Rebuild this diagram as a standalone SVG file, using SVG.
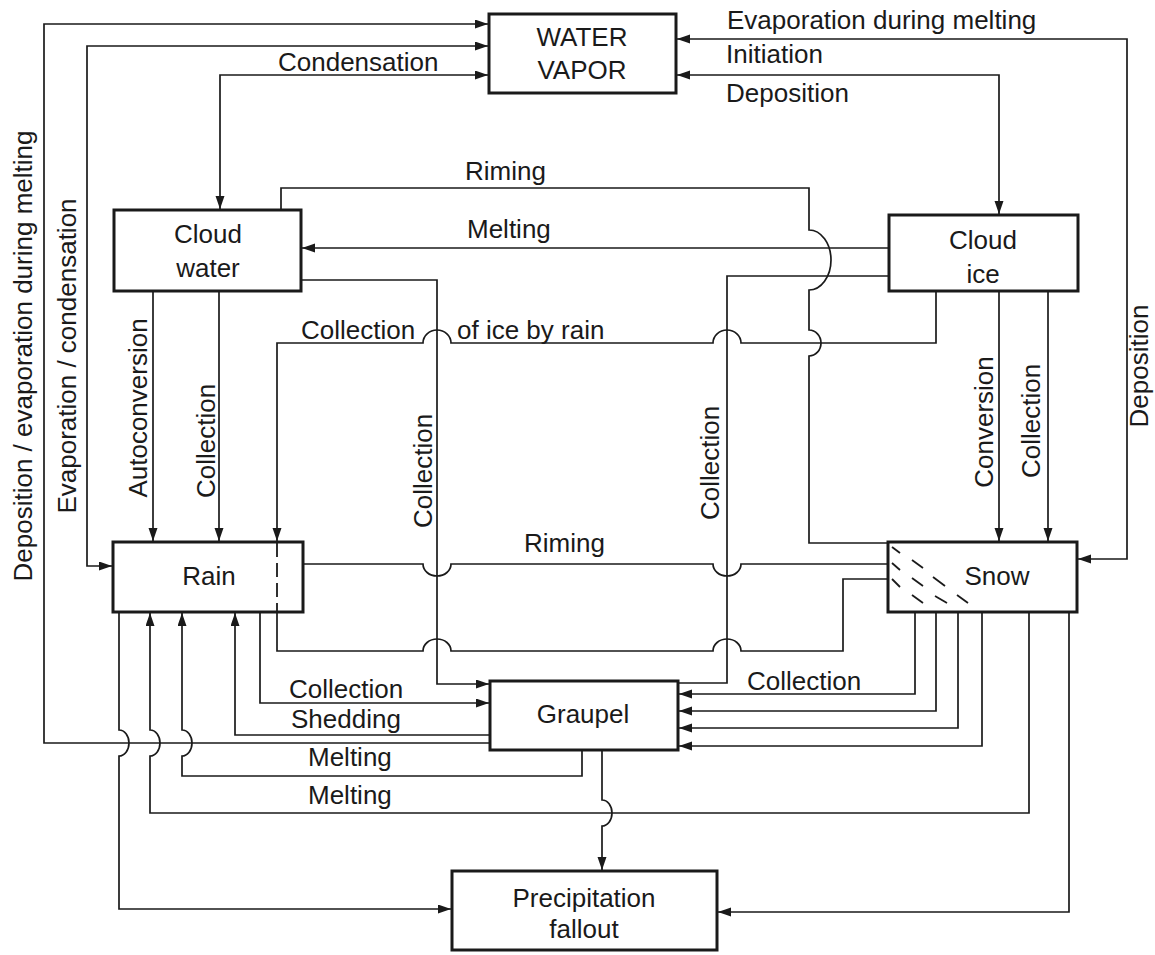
<svg xmlns="http://www.w3.org/2000/svg" width="1155" height="955" viewBox="0 0 1155 955">
<defs>
<marker id="ah" markerUnits="userSpaceOnUse" markerWidth="14" markerHeight="10" refX="13" refY="4.5" orient="auto-start-reverse">
<path d="M0,0 L13,4.5 L0,9 z" fill="#1a1a1a"/>
</marker>
<style>
.box{fill:#fff;stroke:#1a1a1a;stroke-width:3}
.ln{fill:none;stroke:#1a1a1a;stroke-width:1.7}
.a{marker-end:url(#ah)}
.b{marker-start:url(#ah);marker-end:url(#ah)}
.dash{fill:none;stroke:#1a1a1a;stroke-width:1.8;stroke-dasharray:14 6}
.hatch{stroke:#1a1a1a;stroke-width:1.8}
text{font-family:"Liberation Sans",Arial,Helvetica,sans-serif;font-size:26px;fill:#1a1a1a}
.c{text-anchor:middle}
</style>
</defs>
<rect width="1155" height="955" fill="#fff"/>

<g id="water-vapor">
<rect class="box" x="489" y="14" width="187" height="79"/>
<text class="c" x="582" y="46">WATER</text>
<text class="c" x="582" y="79">VAPOR</text>
</g>
<g id="cloud-water">
<rect class="box" x="114" y="210" width="187" height="81"/>
<text class="c" x="208" y="243">Cloud</text>
<text class="c" x="208" y="277">water</text>
</g>
<g id="cloud-ice">
<rect class="box" x="889" y="215" width="189" height="76"/>
<text class="c" x="983" y="249">Cloud</text>
<text class="c" x="983" y="283">ice</text>
</g>
<g id="rain">
<rect class="box" x="113" y="542" width="190" height="70"/>
<text class="c" x="209" y="585">Rain</text>
</g>
<g id="snow">
<rect class="box" x="888" y="542" width="189" height="70"/>
<g class="hatch">
<line x1="892" y1="547" x2="900" y2="553"/>
<line x1="892" y1="563" x2="900" y2="570"/>
<line x1="912" y1="560" x2="923" y2="568"/>
<line x1="892" y1="579" x2="900" y2="587"/>
<line x1="912" y1="578" x2="923" y2="586"/>
<line x1="933" y1="577" x2="945" y2="586"/>
<line x1="912" y1="595" x2="923" y2="603"/>
<line x1="935" y1="596" x2="947" y2="603"/>
<line x1="957" y1="595" x2="968" y2="603"/>
</g>
<text class="c" x="997" y="585">Snow</text>
</g>
<g id="graupel">
<rect class="box" x="490" y="681" width="188" height="69"/>
<text class="c" x="583" y="723">Graupel</text>
</g>
<g id="precipitation-fallout">
<rect class="box" x="452" y="871" width="265" height="79"/>
<text class="c" x="584" y="907">Precipitation</text>
<text class="c" x="584" y="938">fallout</text>
</g>

<g id="connectors">
<path class="ln" d="M490 743 H44 V24 H488" marker-end="url(#ah)"/>
<path class="ln b" d="M112 566 H87 V46 H488"/>
<path class="ln b" d="M220 209 V75 H488"/>
<path class="ln b" d="M1078 559 H1127 V39 H677"/>
<path class="ln b" d="M677 75 H999 V214"/>
<path class="ln" d="M281 210 V188 H809 V230 A22 30 0 0 1 809 290 V330 A12 13 0 0 1 809 356 V543 H888"/>
<path class="ln a" d="M889 248 H302"/>
<path class="ln" d="M889 276 H727 V683 H678"/>
<path class="ln a" d="M301 280 H437 V684 H489"/>
<path class="ln a" d="M936 291 V343 H741 A14 13 0 0 0 713 343 H451 A14 13 0 0 0 423 343 H277 V541"/>
<path class="dash" d="M277 543 V612"/>
<path class="ln" d="M277 612 V651 H423 A14 12 0 0 1 451 651 H713 A14 12 0 0 1 741 651 H843 V579 H888"/>
<path class="ln" d="M303 564 H423 A14 12 0 0 0 451 564 H713 A14 12 0 0 0 741 564 H888"/>
<path class="ln a" d="M915 612 V694 H679"/>
<path class="ln a" d="M936 612 V711 H679"/>
<path class="ln a" d="M958 612 V728 H679"/>
<path class="ln a" d="M982 612 V746 H679"/>
<path class="ln a" d="M1029 612 V813 H150 V756 A10 13 0 0 0 150 730 V613"/>
<path class="ln a" d="M582 750 V776 H182 V756 A10 13 0 0 0 182 730 V613"/>
<path class="ln a" d="M119 612 V730 A10 13 0 0 1 119 756 V909 H451"/>
<path class="ln a" d="M602 750 V800 A10 13 0 0 1 602 826 V870"/>
<path class="ln a" d="M260 612 V703 H489"/>
<path class="ln a" d="M490 735 H235 V613"/>
<path class="ln a" d="M1069 612 V912 H718"/>
<path class="ln a" d="M153 291 V541"/>
<path class="ln a" d="M219 291 V541"/>
<path class="ln a" d="M999 291 V541"/>
<path class="ln a" d="M1048 291 V541"/>
</g>

<g id="labels">
<text x="278" y="71">Condensation</text>
<text x="727" y="29">Evaporation during melting</text>
<text x="726" y="63">Initiation</text>
<text x="726" y="102">Deposition</text>
<text x="465" y="180">Riming</text>
<text x="467" y="238">Melting</text>
<text x="301" y="339">Collection</text>
<text x="457" y="339">of ice by rain</text>
<text x="524" y="552">Riming</text>
<text x="289" y="698">Collection</text>
<text x="291" y="728">Shedding</text>
<text x="308" y="766">Melting</text>
<text x="308" y="804">Melting</text>
<text x="747" y="690">Collection</text>
<text class="c" transform="translate(32 356) rotate(-90)">Deposition / evaporation during melting</text>
<text class="c" transform="translate(76 356) rotate(-90)">Evaporation / condensation</text>
<text class="c" transform="translate(147 408) rotate(-90)">Autoconversion</text>
<text class="c" transform="translate(215 441) rotate(-90)">Collection</text>
<text class="c" transform="translate(432 471) rotate(-90)">Collection</text>
<text class="c" transform="translate(719 463) rotate(-90)">Collection</text>
<text class="c" transform="translate(993 422) rotate(-90)">Conversion</text>
<text class="c" transform="translate(1040 421) rotate(-90)">Collection</text>
<text class="c" transform="translate(1148 366) rotate(-90)">Deposition</text>
</g>
</svg>
